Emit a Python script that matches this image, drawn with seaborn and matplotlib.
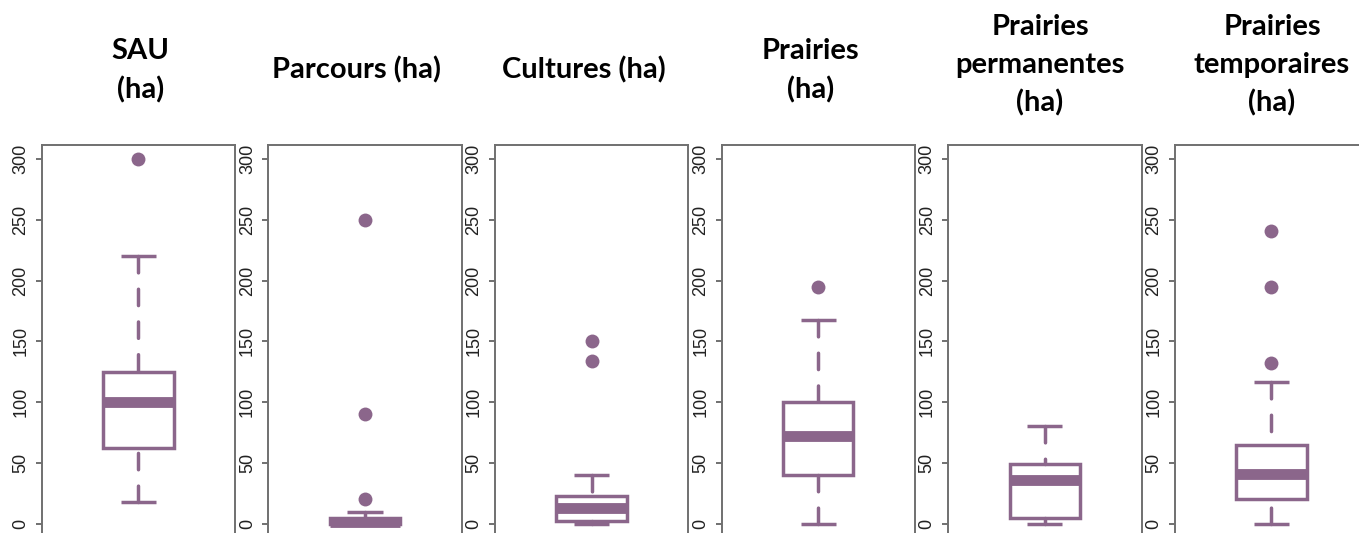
import matplotlib
matplotlib.use("Agg")
import matplotlib.pyplot as plt
import seaborn as sns
import pandas as pd

# Variables (surfaces in hectares)
titles = ["SAU\n(ha)", "Parcours (ha)", "Cultures (ha)", "Prairies\n(ha)",
          "Prairies\npermanentes\n(ha)", "Prairies\ntemporaires\n(ha)"]

# Five-number summaries: lower whisker, Q1, median, Q3, upper whisker
whisker_low = [18, 0, 0, 0, 0, 0]
q1 = [62, 0, 2, 40, 5, 20]
median = [100, 1, 13, 72, 36, 41]
q3 = [125, 5, 23, 100, 49, 65]
whisker_high = [220, 10, 40, 168, 80, 117]

# Outlying farms
outliers = [[300], [20, 90, 250], [134, 150], [195], [], [132, 195, 241]]

y_ticks = [0, 50, 100, 150, 200, 250, 300]

PURPLE = "#8B668B"
FRAME = "#707070"

W, H = 1359, 533
fig = plt.figure(figsize=(W / 100, H / 100), dpi=100)
sns.set_style("white")

panel_left = [41.7, 268.3, 494.9, 721.5, 948.1, 1174.7]
panel_w = 193.5
top_px, bottom_px = 144.5, 538.3

title_x = [140.5, 356.7, 584.2, 810.8, 1040.0, 1272.0]
title_top = [39, 57, 57, 39, 15, 15]

lw = 2.5
for i, name in enumerate(titles):
    ax = fig.add_axes([panel_left[i] / W, 1 - bottom_px / H,
                       panel_w / W, (bottom_px - top_px) / H])
    stats = pd.DataFrame({
        "value": [whisker_low[i], q1[i], median[i], q3[i], whisker_high[i]],
        "group": 0,
    })
    sns.boxplot(
        data=stats, x="group", y="value", ax=ax,
        whis=(0, 100), width=0.364, color="white", saturation=1,
        linecolor=PURPLE, linewidth=lw, showfliers=False,
        medianprops=dict(color=PURPLE, linewidth=7.8, solid_capstyle="butt"),
        whiskerprops=dict(color=PURPLE, linewidth=lw,
                          linestyle=(0, (16.5 / 3.5, 16.5 / 3.5)),
                          dash_capstyle="round"),
        capprops=dict(color=PURPLE, linewidth=lw, solid_capstyle="butt"),
        boxprops=dict(edgecolor=PURPLE, linewidth=lw, joinstyle="miter"),
    )
    # whiskers drawn from the staple toward the box
    for cont in ax.containers:
        for wl in getattr(cont, "whiskers", []):
            wl.set_ydata(list(wl.get_ydata())[::-1])
    if outliers[i]:
        sns.scatterplot(x=[0] * len(outliers[i]), y=outliers[i], ax=ax,
                        color=PURPLE, s=100, linewidth=0, legend=False,
                        zorder=5)
    ax.set_xlim(-0.5, 0.5)
    ax.set_ylim(-12, 312)
    ax.set_xticks([])
    ax.set_xlabel("")
    ax.set_ylabel("")
    ax.set_yticks(y_ticks)
    ax.set_yticklabels([str(t) for t in y_ticks], rotation=90, va="center",
                       fontfamily="Liberation Sans", fontsize=13,
                       color="#222222")
    ax.tick_params(axis="y", which="major", direction="out", length=4.3,
                   width=1.4, color=FRAME, pad=4.6, left=True)
    for sp in ax.spines.values():
        sp.set_visible(True)
        sp.set_color(FRAME)
        sp.set_linewidth(1.4)
    ax.set_facecolor("white")

    fig.text(title_x[i] / W, 1 - (title_top[i] - 1) / H, name,
             ha="center", va="top", multialignment="center",
             fontfamily="Lato", fontweight="bold", fontsize=21,
             linespacing=1.55, color="black")

fig.savefig("out.png", dpi=100, facecolor="white")
